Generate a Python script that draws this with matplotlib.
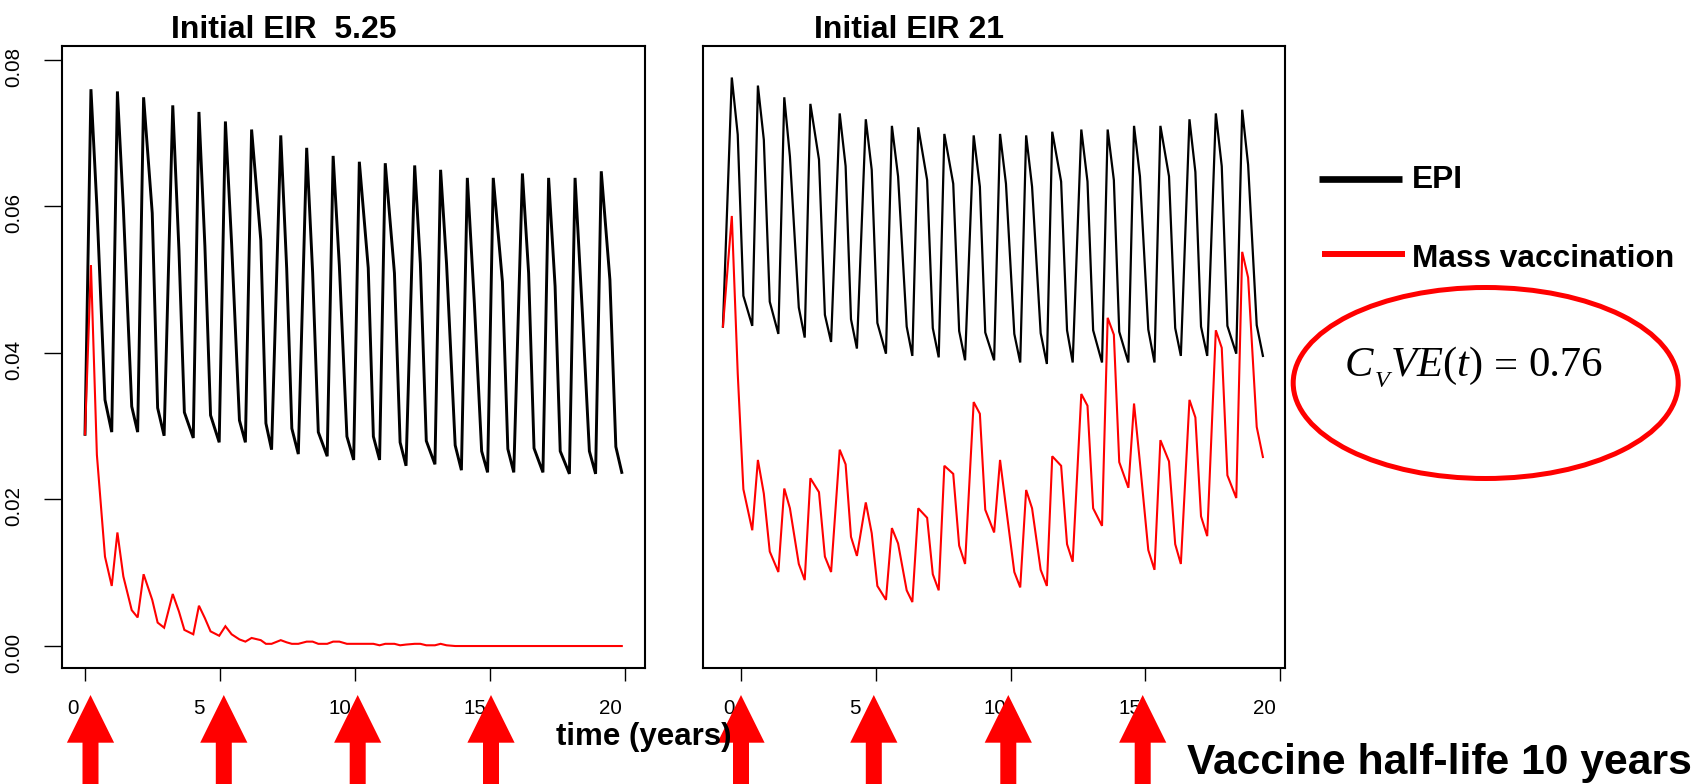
import matplotlib
matplotlib.use('Agg')
import matplotlib.pyplot as plt
from matplotlib.patches import Ellipse, Polygon
from matplotlib.transforms import ScaledTranslation

# values, one row per yearly cycle
time_left = [0.00,
    0.22, 0.44, 0.74, 0.99, 1.20, 1.42, 1.73, 1.95, 2.17, 2.49, 2.69, 2.93,
    3.25, 3.48, 3.68, 4.01, 4.22, 4.44, 4.65, 4.97, 5.20, 5.43, 5.72, 5.94,
    6.17, 6.51, 6.70, 6.91, 7.25, 7.47, 7.66, 7.90, 8.21, 8.43, 8.64, 8.97,
    9.19, 9.42, 9.70, 9.95, 10.16, 10.49, 10.68, 10.91, 11.12, 11.46, 11.67, 11.89,
    12.21, 12.42, 12.64, 12.96, 13.17, 13.39, 13.71, 13.94, 14.16, 14.42, 14.69, 14.91,
    15.12, 15.46, 15.66, 15.88, 16.20, 16.43, 16.63, 16.96, 17.17, 17.41, 17.60, 17.94,
    18.15, 18.42, 18.68, 18.91, 19.12, 19.44, 19.66, 19.88]

epi_left = [0.0289,
    0.0760, 0.0600, 0.0336, 0.0292, 0.0757, 0.0598, 0.0327, 0.0292,
    0.0749, 0.0591, 0.0325, 0.0287, 0.0738, 0.0540, 0.0319, 0.0284,
    0.0729, 0.0546, 0.0315, 0.0278, 0.0716, 0.0549, 0.0308, 0.0278,
    0.0705, 0.0554, 0.0304, 0.0268, 0.0697, 0.0515, 0.0297, 0.0262,
    0.0680, 0.0510, 0.0292, 0.0259, 0.0669, 0.0519, 0.0286, 0.0254,
    0.0661, 0.0516, 0.0286, 0.0254, 0.0659, 0.0509, 0.0278, 0.0246,
    0.0656, 0.0522, 0.0280, 0.0248, 0.0650, 0.0522, 0.0274, 0.0240,
    0.0639, 0.0468, 0.0266, 0.0237, 0.0639, 0.0497, 0.0269, 0.0237,
    0.0645, 0.0509, 0.0270, 0.0237, 0.0639, 0.0491, 0.0266, 0.0235,
    0.0639, 0.0455, 0.0266, 0.0235, 0.0648, 0.0500, 0.0272, 0.0237]

mass_left = [0.0289,
    0.0520, 0.0261, 0.0122, 0.0082, 0.0155, 0.0095, 0.0049, 0.0039,
    0.0098, 0.0063, 0.0032, 0.0025, 0.0071, 0.0047, 0.0022, 0.0016,
    0.0055, 0.0038, 0.0020, 0.0014, 0.0027, 0.0016, 0.0009, 0.0006,
    0.0011, 0.0008, 0.0003, 0.0003, 0.0008, 0.0005, 0.0003, 0.0003,
    0.0006, 0.0006, 0.0003, 0.0003, 0.0006, 0.0006, 0.0003, 0.0003,
    0.0003, 0.0003, 0.0003, 0.0001, 0.0003, 0.0003, 0.0001, 0.0002,
    0.0003, 0.0003, 0.0001, 0.0001, 0.0003, 0.0001, 0.0000, 0.0000,
    0.0000, 0.0000, 0.0000, 0.0000, 0.0000, 0.0000, 0.0000, 0.0000,
    0.0000, 0.0000, 0.0000, 0.0000, 0.0000, 0.0000, 0.0000, 0.0000,
    0.0000, 0.0000, 0.0000, 0.0000, 0.0000, 0.0000, 0.0000, 0.0000]

time_right = [-0.69,
    -0.36, -0.14, 0.07, 0.40, 0.61, 0.83, 1.05, 1.37, 1.59, 1.80, 2.13, 2.35,
    2.56, 2.88, 3.10, 3.33, 3.65, 3.87, 4.07, 4.29, 4.62, 4.84, 5.05, 5.37,
    5.59, 5.82, 6.14, 6.35, 6.57, 6.90, 7.11, 7.33, 7.54, 7.87, 8.09, 8.31,
    8.63, 8.86, 9.06, 9.39, 9.61, 9.83, 10.14, 10.36, 10.58, 10.80, 11.12, 11.35,
    11.55, 11.88, 12.10, 12.31, 12.63, 12.86, 13.07, 13.40, 13.61, 13.84, 14.04, 14.38,
    14.59, 14.81, 15.12, 15.35, 15.57, 15.89, 16.12, 16.33, 16.65, 16.87, 17.08, 17.31,
    17.63, 17.85, 18.06, 18.39, 18.61, 18.83, 19.15, 19.38]

epi_right = [0.0436,
    0.0776, 0.0698, 0.0478, 0.0437, 0.0765, 0.0691, 0.0470, 0.0426,
    0.0749, 0.0668, 0.0462, 0.0421, 0.0740, 0.0664, 0.0452, 0.0415,
    0.0727, 0.0655, 0.0446, 0.0406, 0.0719, 0.0650, 0.0441, 0.0399,
    0.0710, 0.0641, 0.0436, 0.0396, 0.0708, 0.0636, 0.0434, 0.0394,
    0.0699, 0.0631, 0.0430, 0.0390, 0.0697, 0.0627, 0.0428, 0.0390,
    0.0699, 0.0631, 0.0426, 0.0387, 0.0697, 0.0627, 0.0427, 0.0385,
    0.0702, 0.0634, 0.0431, 0.0387, 0.0705, 0.0634, 0.0431, 0.0387,
    0.0705, 0.0636, 0.0429, 0.0387, 0.0710, 0.0641, 0.0432, 0.0387,
    0.0710, 0.0641, 0.0434, 0.0396, 0.0719, 0.0647, 0.0436, 0.0396,
    0.0727, 0.0655, 0.0437, 0.0399, 0.0732, 0.0657, 0.0438, 0.0396]

mass_right = [0.0436,
    0.0587, 0.0372, 0.0214, 0.0158, 0.0254, 0.0208, 0.0129, 0.0101,
    0.0215, 0.0188, 0.0112, 0.0090, 0.0229, 0.0210, 0.0122, 0.0101,
    0.0268, 0.0248, 0.0149, 0.0123, 0.0196, 0.0154, 0.0082, 0.0063,
    0.0161, 0.0140, 0.0076, 0.0060, 0.0188, 0.0175, 0.0098, 0.0076,
    0.0246, 0.0235, 0.0137, 0.0112, 0.0333, 0.0317, 0.0186, 0.0155,
    0.0254, 0.0190, 0.0101, 0.0080, 0.0213, 0.0188, 0.0104, 0.0082,
    0.0259, 0.0246, 0.0139, 0.0115, 0.0344, 0.0328, 0.0188, 0.0164,
    0.0448, 0.0425, 0.0251, 0.0216, 0.0331, 0.0250, 0.0131, 0.0104,
    0.0281, 0.0252, 0.0139, 0.0112, 0.0336, 0.0312, 0.0177, 0.0150,
    0.0431, 0.0407, 0.0233, 0.0202, 0.0538, 0.0503, 0.0299, 0.0258]

year_ticks = [0, 5, 10, 15, 20]
rate_ticks = [0.00, 0.02, 0.04, 0.06, 0.08]
rate_labels = ['0.00', '0.02', '0.04', '0.06', '0.08']
arrow_x = [90.5, 223.8, 357.7, 491, 741, 873.8, 1008.3, 1142.7]

W, H = 1696, 784
plt.rcParams['font.family'] = ['Liberation Sans', 'DejaVu Sans']
plt.rcParams['mathtext.fontset'] = 'custom'
plt.rcParams['mathtext.rm'] = 'Liberation Serif'
plt.rcParams['mathtext.it'] = 'Liberation Serif:italic'

fig = plt.figure(figsize=(W / 100, H / 100), dpi=100)


def panel(left, right, xlim, time, epi, mass, epi_lw):
    # rect is x, y, width, height
    ax = fig.add_axes([left / W, 1 - 668 / H, (right - left) / W, 622 / H])
    ax.plot(time, epi, color='black', lw=epi_lw, solid_joinstyle='miter')
    ax.plot(time, mass, color='red', lw=1.5, solid_joinstyle='miter')
    ax.set_xlim(xlim)
    ax.set_ylim(-0.0030, 0.0819)
    ax.set_xticks(year_ticks)
    ax.tick_params(axis='x', length=9.4, width=1, labelsize=14.8, pad=13)
    for s in ax.spines.values():
        s.set_linewidth(1.5)
    # the tick labels sit left of their ticks in the original
    for lab, dx in zip(ax.get_xticklabels(), [-12, -21, -15.5, -15, -15]):
        lab.set_transform(lab.get_transform() + ScaledTranslation(dx / 100, 0, fig.dpi_scale_trans))
    return ax


ax1 = panel(62, 645, (-0.852, 20.74), time_left, epi_left, mass_left, 2.1)
ax2 = panel(702.7, 1284.7, (-1.442, 20.19), time_right, epi_right, mass_right, 1.6)

ax1.set_yticks(rate_ticks)
ax1.set_yticklabels(rate_labels, rotation=90, va='center')
ax1.tick_params(axis='y', length=13, width=1, labelsize=14.8, pad=15)
for lab in ax1.get_yticklabels():
    lab.set_transform(lab.get_transform() + ScaledTranslation(0, -7 / 100, fig.dpi_scale_trans))
ax2.set_yticks([])

# overlay in pixel coordinates for the pasted-on annotations
over = fig.add_axes([0, 0, 1, 1], zorder=10)
over.set_xlim(0, W)
over.set_ylim(H, 0)
over.axis('off')

over.text(284, 30, 'Initial EIR  5.25', fontsize=23, fontweight='bold', ha='center', va='center')
over.text(909, 30, 'Initial EIR 21', fontsize=23, fontweight='bold', ha='center', va='center')
over.text(644, 737, 'time (years)', fontsize=22.5, fontweight='bold', ha='center', va='center')
over.text(1187, 763, 'Vaccine half-life 10 years', fontsize=30.7, fontweight='bold', ha='left', va='center')

over.plot([1319, 1402], [179.3, 179.3], color='black', lw=4.8, solid_capstyle='butt')
over.plot([1322, 1405], [253.5, 253.5], color='red', lw=4.3, solid_capstyle='butt')
over.text(1412, 180, 'EPI', fontsize=22.8, fontweight='bold', ha='left', va='center')
over.text(1412, 259, 'Mass vaccination', fontsize=22.8, fontweight='bold', ha='left', va='center')

over.add_patch(Ellipse((1485.7, 383), 385, 191, fill=False, edgecolor='red', lw=3.6))
# equation pieces placed one by one, the subscript is smaller than mathtext makes it
over.text(1344, 376, r'$C$', fontsize=30.7, ha='left', va='baseline')
over.text(1374, 387, r'$V$', fontsize=17.6, ha='left', va='baseline')
over.text(1390, 376, r'$VE(t)$', fontsize=30.7, ha='left', va='baseline')
over.text(1487, 376, r'$=$', fontsize=30.7, ha='left', va='baseline')
over.text(1528, 376, '0.76', fontsize=30.7, family='Liberation Serif', ha='left', va='baseline')

for x in arrow_x:
    over.add_patch(Polygon([(x, 695), (x + 23.6, 742.7), (x + 8, 742.7), (x + 8, H),
                            (x - 8, H), (x - 8, 742.7), (x - 23.6, 742.7)],
                           closed=True, facecolor='red', edgecolor='none'))

fig.savefig('out.png', dpi=100)
